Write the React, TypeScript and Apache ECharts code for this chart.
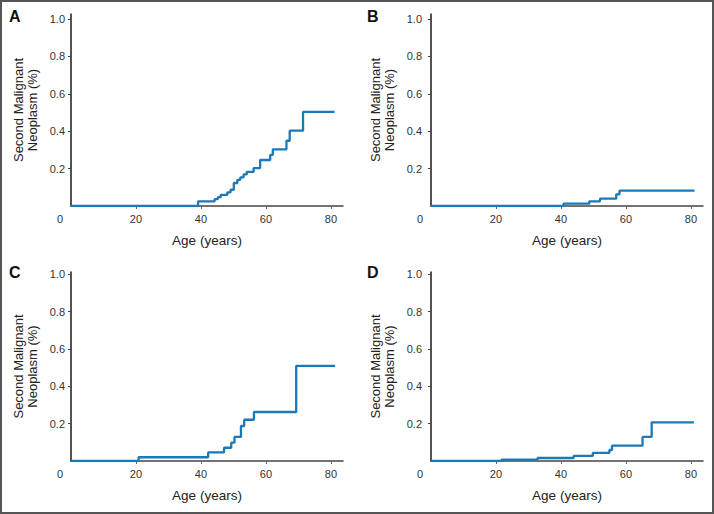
import React, { useEffect, useRef } from "react";
import * as echarts from "echarts";

// Cumulative incidence step curves (age in years, risk in %)
const A_AGES = [0, 39.1, 44.2, 45.2, 46.1, 48.1, 49.1, 50.1, 51.2, 52.1, 53.1, 54.1, 56.2, 58.2, 61.3, 62.1, 66.3, 67.3, 71.4, 81.1];
const A_RISK = [0, 0.025, 0.037, 0.048, 0.06, 0.073, 0.087, 0.123, 0.14, 0.153, 0.169, 0.183, 0.203, 0.246, 0.273, 0.303, 0.349, 0.403, 0.503, 0.503];

const B_AGES = [0, 40.8, 48.7, 52.0, 57.0, 58.0, 81.1];
const B_RISK = [0, 0.0125, 0.025, 0.039, 0.0625, 0.082, 0.082];

const C_AGES = [0, 20.8, 42.2, 47.1, 49.3, 50.3, 52.3, 53.3, 56.3, 69.3, 81.3];
const C_RISK = [0, 0.02, 0.046, 0.071, 0.098, 0.129, 0.1875, 0.221, 0.2625, 0.509, 0.509];

const D_AGES = [0, 21.7, 32.8, 43.9, 49.8, 54.9, 55.7, 65.1, 67.9, 80.9];
const D_RISK = [0, 0.007, 0.016, 0.027, 0.043, 0.059, 0.082, 0.129, 0.207, 0.207];

const PANEL_LABELS = ["A", "B", "C", "D"];
const X_TICKS = [0, 20, 40, 60, 80];
const Y_TICKS = [0.2, 0.4, 0.6, 0.8, 1.0];
const X_TITLE = "Age (years)";
const Y_TITLE = "Second Malignant\nNeoplasm (%)";

const FONT = '"Liberation Sans", Arial, sans-serif';
const LINE_COLOR = "#1b79b8";

export default function App() {
  const ref = useRef<HTMLDivElement>(null);

  useEffect(() => {
    if (!ref.current) return;
    const chart = echarts.init(ref.current, undefined, { renderer: "svg" });

    const panels = [
      { ages: A_AGES, risk: A_RISK, grid: { left: 71, top: 14, width: 272, height: 192 }, xMax: 83.7, yMax: 1.027, yOff: 0, lbl: [9, 8] },
      { ages: B_AGES, risk: B_RISK, grid: { left: 431, top: 14, width: 272, height: 192 }, xMax: 83.7, yMax: 1.027, yOff: 3, lbl: [367, 8] },
      { ages: C_AGES, risk: C_RISK, grid: { left: 71, top: 272, width: 272, height: 189 }, xMax: 83.7, yMax: 1.012, yOff: 0, lbl: [9, 264] },
      { ages: D_AGES, risk: D_RISK, grid: { left: 431, top: 272, width: 272, height: 189 }, xMax: 83.7, yMax: 1.012, yOff: 3, lbl: [367, 264] },
    ];

    const option: any = {
      animation: false,
      backgroundColor: "#ffffff",
      textStyle: { fontFamily: FONT },
      grid: panels.map((p) => ({ ...p.grid, containLabel: false })),
      xAxis: panels.map((p, i) => ({
        type: "value",
        gridIndex: i,
        min: 0,
        max: p.xMax,
        name: X_TITLE,
        nameLocation: "middle",
        nameGap: 27,
        nameTextStyle: { fontFamily: FONT, fontSize: 13.5, color: "#222" },
        axisLine: { show: true, lineStyle: { color: "#444", width: 1.5 } },
        axisTick: { show: true, length: 3, customValues: [20, 40, 60, 80], lineStyle: { color: "#666" } },
        axisLabel: {
          customValues: X_TICKS,
          margin: 7,
          fontFamily: FONT,
          fontSize: 11,
          color: "#333",
          formatter: (v: number) => (v === 0 ? "{z|0}" : String(v)),
          rich: { z: { padding: [0, 22, 0, 0], fontFamily: FONT, fontSize: 11, color: "#333" } },
        },
        splitLine: { show: false },
      })),
      yAxis: panels.map((p, i) => ({
        type: "value",
        gridIndex: i,
        min: 0,
        max: p.yMax,
        offset: p.yOff,
        name: Y_TITLE,
        nameLocation: "middle",
        nameGap: 31,
        nameTextStyle: { fontFamily: FONT, fontSize: 13, color: "#222", lineHeight: 14.5 },
        axisLine: { show: true, lineStyle: { color: "#1a1a1a", width: 1.5 } },
        axisTick: { show: true, length: 3, customValues: Y_TICKS, lineStyle: { color: "#444" } },
        axisLabel: {
          customValues: Y_TICKS,
          margin: 6,
          fontFamily: FONT,
          fontSize: 11,
          color: "#333",
          formatter: (v: number) => v.toFixed(1),
        },
        splitLine: { show: false },
      })),
      series: panels.map((p, i) => ({
        type: "line",
        xAxisIndex: i,
        yAxisIndex: i,
        step: "end",
        showSymbol: false,
        symbol: "none",
        data: p.ages.map((a, k) => [a, p.risk[k]]),
        lineStyle: { color: LINE_COLOR, width: 2.3 },
      })),
      graphic: [
        {
          type: "rect",
          shape: { x: 1, y: 1, width: 712, height: 512 },
          style: { fill: "none", stroke: "#555", lineWidth: 2 },
          silent: true,
        },
        ...panels.map((p, i) => ({
          type: "text",
          x: p.lbl[0],
          y: p.lbl[1],
          style: {
            text: PANEL_LABELS[i],
            font: 'bold 16px "Liberation Sans", Arial, sans-serif',
            fill: "#111",
          },
        })),
      ],
    };

    chart.setOption(option);
    return () => chart.dispose();
  }, []);

  return (
    <div
      ref={ref}
      style={{ position: "fixed", left: 0, top: 0, width: 714, height: 514, background: "#fff" }}
    />
  );
}
